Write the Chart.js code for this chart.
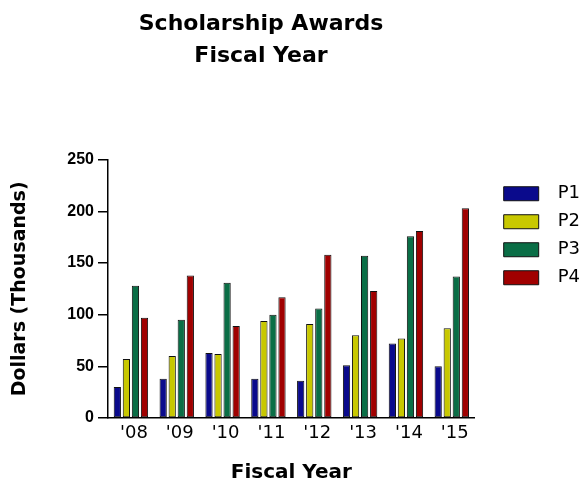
<!DOCTYPE html>
<html>
<head>
<meta charset="utf-8">
<script src="https://cdn.jsdelivr.net/npm/chart.js@4"></script>
<style>
  html, body { margin: 0; padding: 0; background: #fff; }
  #wrap { width: 583px; height: 487px; }
</style>
</head>
<body>
<div id="wrap"><canvas id="myChart" width="583" height="487"></canvas></div>
<script>
const years = ["'08", "'09", "'10", "'11", "'12", "'13", "'14", "'15"];
const p1 = [30, 38, 63, 38, 36, 51, 72, 50];
const p2 = [57, 60, 62, 94, 91, 80, 77, 87];
const p3 = [128, 95, 131, 100, 106, 157, 176, 137];
const p4 = [97, 138, 89, 117, 158, 123, 181, 203];
const yTicks = [0, 50, 100, 150, 200, 250];

const seriesNames = ["P1", "P2", "P3", "P4"];
const seriesColors = ["#0a0a8c", "#c8c800", "#0a6e46", "#a00000"];

// title in the reference sits left of the canvas centre
const titleShift = {
  id: "titleShift",
  afterLayout(chart) {
    chart.titleBlock.right = chart.titleBlock.left + 522;
  },
};

function makeDataset(i, values) {
  return {
    label: seriesNames[i],
    data: values,
    backgroundColor: seriesColors[i],
    borderColor: "#111",
    borderWidth: 1,
    borderSkipped: false,
    categoryPercentage: 0.79,
    barPercentage: 0.8,
  };
}

const ctx = document.getElementById("myChart");

new Chart(ctx, {
  type: "bar",
  data: {
    labels: years,
    datasets: [
      makeDataset(0, p1),
      makeDataset(1, p2),
      makeDataset(2, p3),
      makeDataset(3, p4),
    ],
  },
  plugins: [titleShift],
  options: {
    responsive: false,
    animation: false,
    layout: { padding: { top: 0, right: 3, bottom: 0, left: 0 } },
    plugins: {
      tooltip: { enabled: false },
      title: {
        display: true,
        text: ["Scholarship Awards", "Fiscal Year"],
        color: "#000",
        font: { family: "DejaVu Sans", size: 22, weight: "bold", lineHeight: 1.46 },
        padding: { top: 8.5, bottom: 87 },
      },
      legend: {
        position: "right",
        align: "start",
        fullSize: false,
        title: { display: true, text: "", font: { size: 12, lineHeight: 1.25 }, padding: 0 },
        labels: {
          boxWidth: 35,
          boxHeight: 14,
          padding: 10,
          color: "#000",
          textAlign: "right",
          font: { family: "DejaVu Sans", size: 18 },
        },
      },
    },
    scales: {
      x: {
        grid: { display: false, drawTicks: false },
        border: { display: true, color: "#000", width: 1.5 },
        ticks: {
          color: "#000",
          padding: 5,
          labelOffset: 3,
          font: { family: "DejaVu Sans", size: 18 },
        },
        title: {
          display: true,
          text: "Fiscal Year",
          color: "#000",
          font: { family: "DejaVu Sans", size: 20, weight: "bold" },
          padding: { top: 0, bottom: 2.5 },
        },
        afterFit(scale) {
          scale.height = 69;
        },
      },
      y: {
        min: 0,
        max: 250,
        afterBuildTicks(scale) {
          scale.ticks = yTicks.map((v) => ({ value: v }));
        },
        grid: {
          drawOnChartArea: false,
          drawTicks: true,
          tickLength: 10,
          color: "#000",
          lineWidth: 1.5,
        },
        border: { display: true, color: "#000", width: 1.5 },
        ticks: {
          color: "#000",
          padding: 4,
          font: { family: "Liberation Sans", size: 16, weight: "bold" },
        },
        title: {
          display: true,
          text: "Dollars (Thousands)",
          color: "#000",
          font: { family: "DejaVu Sans", size: 19, weight: "bold" },
          padding: { top: 9, bottom: 0 },
        },
        afterFit(scale) {
          scale.width = 108;
        },
      },
      // empty right-hand axis, only keeps a gap before the legend
      gap: {
        type: "linear",
        position: "right",
        display: true,
        grid: { display: false },
        border: { display: false },
        ticks: { display: false },
        afterFit(scale) {
          scale.width = 19;
        },
      },
    },
  },
});
</script>
</body>
</html>
